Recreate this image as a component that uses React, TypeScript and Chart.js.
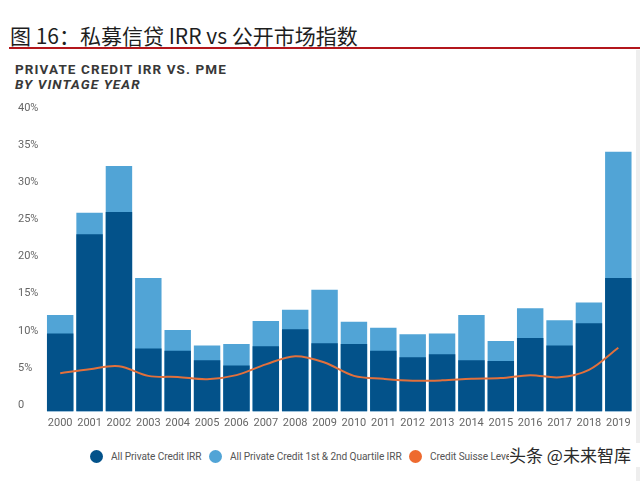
import React, { useEffect, useRef } from "react";
import { Chart, registerables } from "chart.js";

Chart.register(...registerables);

const titleText = "图 16：私募信贷 IRR vs 公开市场指数";
const subtitleLine1 = "PRIVATE CREDIT IRR VS. PME";
const subtitleLine2 = "BY VINTAGE YEAR";
const watermarkText = "头条 @未来智库";

const years = [
  "2000", "2001", "2002", "2003", "2004", "2005", "2006", "2007", "2008", "2009",
  "2010", "2011", "2012", "2013", "2014", "2015", "2016", "2017", "2018", "2019",
];

const allPrivateCreditIRR = [
  10.5, 23.9, 26.9, 8.5, 8.2, 6.9, 6.2, 8.8, 11.1, 9.2,
  9.1, 8.2, 7.3, 7.7, 6.9, 6.8, 9.9, 8.9, 11.9, 18.0,
];

const topHalfQuartileIRR = [
  13.0, 26.8, 33.1, 18.0, 11.0, 8.9, 9.1, 12.2, 13.7, 16.4,
  12.1, 11.3, 10.4, 10.5, 13.0, 9.5, 13.9, 12.3, 14.7, 35.0,
];

const leveragedLoanIndex = [
  5.15, 5.7, 6.1, 4.8, 4.65, 4.35, 4.9, 6.35, 7.45, 6.6,
  4.8, 4.4, 4.15, 4.2, 4.4, 4.5, 4.9, 4.6, 5.6, 8.6,
];

const seriesLabels = [
  "All Private Credit IRR",
  "All Private Credit 1st & 2nd Quartile IRR",
  "Credit Suisse Leveraged Loan Index",
];
const seriesColors = ["#03528A", "#51A4D6", "#EE6A2F"];
const lineColor = "#E2703C";

const yMin = 0;
const yMax = 40;
const yStep = 5;

const legendPositions = [91, 210, 410];

export default function App() {
  const canvasRef = useRef<HTMLCanvasElement | null>(null);

  useEffect(() => {
    document.body.style.margin = "0";
    const canvas = canvasRef.current;
    if (!canvas) return;
    const chart = new Chart(canvas, {
      type: "bar",
      data: {
        labels: years,
        datasets: [
          {
            type: "line",
            label: seriesLabels[2],
            data: leveragedLoanIndex,
            borderColor: lineColor,
            borderWidth: 2,
            pointRadius: 0,
            tension: 0.35,
            fill: false,
            order: 0,
          } as any,
          {
            type: "bar",
            label: seriesLabels[0],
            data: allPrivateCreditIRR,
            backgroundColor: seriesColors[0],
            grouped: false,
            barPercentage: 0.9,
            categoryPercentage: 1,
            order: 1,
          },
          {
            type: "bar",
            label: seriesLabels[1],
            data: topHalfQuartileIRR,
            backgroundColor: seriesColors[1],
            grouped: false,
            barPercentage: 0.9,
            categoryPercentage: 1,
            order: 2,
          },
        ],
      },
      options: {
        animation: false,
        responsive: true,
        maintainAspectRatio: false,
        layout: { padding: { left: 18, right: 7, top: 19.7, bottom: 0 } },
        plugins: {
          legend: { display: false },
          tooltip: { enabled: false },
        },
        scales: {
          x: {
            grid: { display: false, drawTicks: false },
            border: { display: false },
            ticks: {
              color: "#666",
              font: { family: "Roboto", size: 11 },
              padding: 5,
              maxRotation: 0,
              autoSkip: false,
            },
            afterFit: (scale: any) => {
              scale.height = 23.5;
            },
          },
          y: {
            min: yMin,
            max: yMax,
            grid: { display: false, drawTicks: false },
            border: { display: false },
            ticks: {
              stepSize: yStep,
              color: "#666",
              font: { family: "Roboto", size: 11 },
              crossAlign: "far",
              labelOffset: -6.5,
              callback: (v: any) => (Number(v) === 0 ? "0" : `${v}%`),
            },
            afterFit: (scale: any) => {
              scale.width = 27.5;
            },
          },
        },
      },
    });
    return () => chart.destroy();
  }, []);

  return (
    <div
      style={{
        position: "absolute",
        left: 0,
        top: 0,
        width: 640,
        height: 481,
        background: "#fff",
        overflow: "hidden",
        fontFamily: "Roboto, 'Noto Sans CJK SC', sans-serif",
      }}
    >
      <div
        style={{
          position: "absolute",
          left: 10,
          top: 21,
          fontFamily: "'Noto Sans CJK SC', sans-serif",
          fontSize: 21,
          lineHeight: "28px",
          color: "#1e1e1e",
          whiteSpace: "nowrap",
        }}
      >
        {titleText}
      </div>
      <div
        style={{
          position: "absolute",
          left: 9,
          top: 47,
          width: 631,
          height: 2,
          background: "#B3171C",
        }}
      />
      <div
        style={{
          position: "absolute",
          left: 15,
          top: 61,
          fontSize: 13.5,
          fontWeight: 700,
          letterSpacing: 1.1,
          lineHeight: "16px",
          color: "#383838",
          whiteSpace: "nowrap",
        }}
      >
        {subtitleLine1}
      </div>
      <div
        style={{
          position: "absolute",
          left: 15,
          top: 75.5,
          fontSize: 13.5,
          fontWeight: 700,
          fontStyle: "italic",
          letterSpacing: 1.1,
          lineHeight: "16px",
          color: "#383838",
          whiteSpace: "nowrap",
        }}
      >
        {subtitleLine2}
      </div>
      <div
        style={{
          position: "absolute",
          left: 636,
          top: 50,
          width: 4,
          height: 431,
          background: "#eeeeee",
        }}
      />
      <div style={{ position: "absolute", left: 0, top: 95, width: 640, height: 340 }}>
        <canvas ref={canvasRef} />
      </div>
      {seriesLabels.map((label, i) => (
        <div
          key={label}
          style={{
            position: "absolute",
            left: legendPositions[i] - 1,
            top: 448,
            height: 16,
            display: "flex",
            alignItems: "center",
            whiteSpace: "nowrap",
          }}
        >
          <span
            style={{
              display: "inline-block",
              width: 13,
              height: 13,
              borderRadius: "50%",
              background: seriesColors[i],
              marginRight: 8,
            }}
          />
          <span
            style={{
              fontSize: 11.5,
              color: "#555",
              letterSpacing: -0.1,
              display: "inline-block",
              transform: "scaleX(0.88)",
              transformOrigin: "left center",
            }}
          >
            {label}
          </span>
        </div>
      ))}
      <div
        style={{
          position: "absolute",
          left: 509,
          top: 443,
          height: 24,
          lineHeight: "24px",
          paddingRight: 12,
          background: "#fff",
          fontFamily: "'Noto Sans CJK SC', sans-serif",
          fontSize: 17,
          color: "#2a2a2a",
          whiteSpace: "nowrap",
        }}
      >
        {watermarkText}
      </div>
    </div>
  );
}
